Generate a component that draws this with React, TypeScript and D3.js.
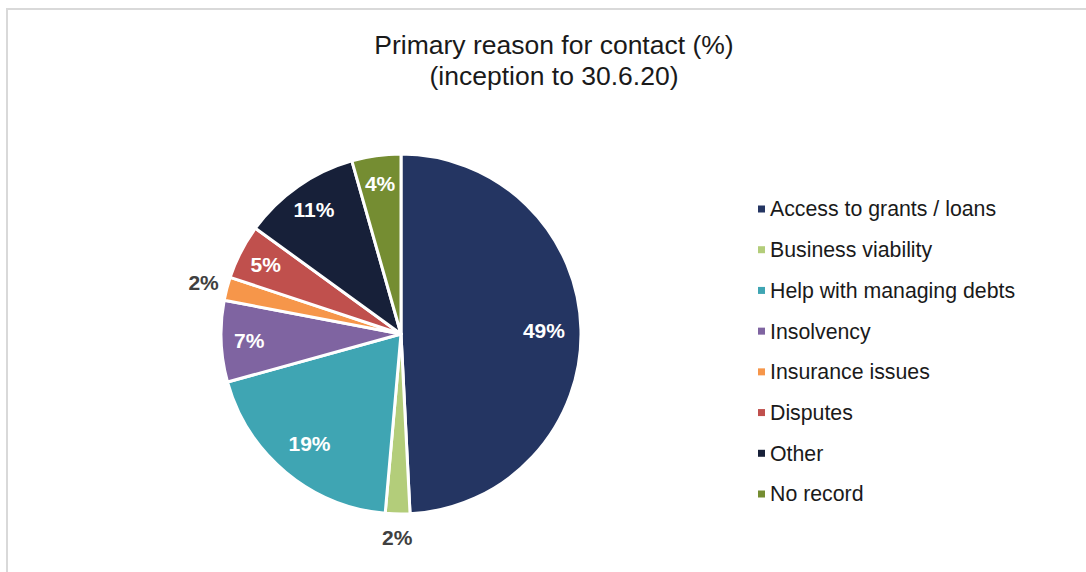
import React from "react";
import * as d3 from "d3";

const categories = [
  "Access to grants / loans",
  "Business viability",
  "Help with managing debts",
  "Insolvency",
  "Insurance issues",
  "Disputes",
  "Other",
  "No record",
];
const shares = [49.2, 2.2, 19.3, 7.3, 2.1, 4.9, 10.6, 4.4];
const shownLabels = ["49%", "2%", "19%", "7%", "2%", "5%", "11%", "4%"];
const labelOutside = [false, true, false, false, true, false, false, false];
const colors = [
  "#243562",
  "#b3cd7a",
  "#3fa5b3",
  "#7f64a1",
  "#f6964a",
  "#c0504d",
  "#172039",
  "#758d32",
];

const width = 1086;
const height = 572;
const cx = 401;
const cy = 334;
const radius = 180;
const font = "'Liberation Sans', Arial, sans-serif";

export default function App() {
  const pie = d3
    .pie<number>()
    .sort(null)
    .value((d) => d);
  const arcs = pie(shares);
  const arc = d3.arc<d3.PieArcDatum<number>>().innerRadius(0).outerRadius(radius);
  // big slices get their label a bit further in, like the original
  const labelArc = (d: d3.PieArcDatum<number>, outside: boolean) => {
    const r = outside ? 204 : d.data > 15 ? 143 : 152;
    return d3.arc<d3.PieArcDatum<number>>().innerRadius(r).outerRadius(r).centroid(d);
  };

  const legendY = d3
    .scalePoint<string>()
    .domain(categories)
    .range([209, 494]);

  return (
    <svg
      width={width}
      height={height}
      style={{ position: "absolute", left: 0, top: 0, background: "#fff" }}
      fontFamily={font}
    >
      <rect x={7} y={9} width={1094} height={600} fill="#fff" stroke="#d9d9d9" strokeWidth={2} />

      <text x={554} y={54} textAnchor="middle" fontSize={26.5} fill="#1a1a1a">
        Primary reason for contact (%)
      </text>
      <text x={554} y={85} textAnchor="middle" fontSize={26.5} fill="#1a1a1a">
        (inception to 30.6.20)
      </text>

      <g transform={`translate(${cx},${cy})`}>
        {arcs.map((a, i) => (
          <path key={i} d={arc(a) || ""} fill={colors[i]} stroke="#fff" strokeWidth={3} strokeLinejoin="round" />
        ))}
        {arcs.map((a, i) => {
          const [x, y] = labelArc(a, labelOutside[i]);
          return (
            <text
              key={i}
              x={x}
              y={y}
              dy="0.35em"
              textAnchor="middle"
              fontSize={21}
              fontWeight="bold"
              fill={labelOutside[i] ? "#404040" : "#fff"}
            >
              {shownLabels[i]}
            </text>
          );
        })}
      </g>

      <g>
        {categories.map((c, i) => (
          <g key={c} transform={`translate(0,${legendY(c)})`}>
            <rect x={758} y={-3.5} width={7} height={7} fill={colors[i]} />
            <text x={770} y={0} dy="0.35em" fontSize={21.3} fill="#1a1a1a">
              {c}
            </text>
          </g>
        ))}
      </g>
    </svg>
  );
}
